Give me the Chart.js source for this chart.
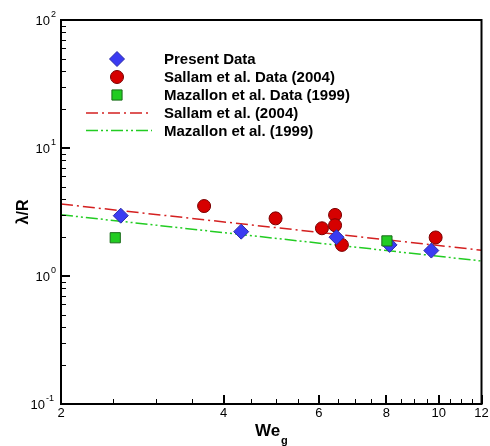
<!DOCTYPE html>
<html>
<head>
<meta charset="utf-8">
<script src="https://cdn.jsdelivr.net/npm/chart.js@4.4.0/dist/chart.umd.min.js"></script>
<style>
  body { margin: 0; background: #fff; }
  #wrap { width: 490px; height: 446px; position: relative; }
</style>
</head>
<body>
<div id="wrap"><canvas id="chart"></canvas></div>
<script>
// data
const presentWe = [2.58, 4.31, 6.47, 8.11, 9.69];
const presentVal = [2.96, 2.22, 2.01, 1.75, 1.58];
const sallamWe = [3.68, 4.99, 6.08, 6.43, 6.43, 6.62, 9.87];
const sallamVal = [3.52, 2.82, 2.36, 3.0, 2.49, 1.75, 2.0];
const mazallonWe = [2.52, 8.02];
const mazallonVal = [1.99, 1.88];
const fitWe = [2, 12];
const sallamFit = [3.65, 1.59];
const mazallonFit = [3.01, 1.31];

// axis ticks
const xMajor = [2, 4, 6, 8, 10, 12];
const xMinor = [2.5, 3, 3.5, 4.5, 5, 5.5, 6.5, 7, 7.5, 8.5, 9, 9.5, 10.5, 11, 11.5];
const yDecades = [0.1, 1, 10, 100];
const yExp = ["-1", "0", "1", "2"];

const pts = (xs, ys) => xs.map((x, i) => ({ x, y: ys[i] }));
const FONT = "'Liberation Sans', Arial, sans-serif";

const datasets = [
  { label: "Present Data", data: pts(presentWe, presentVal), pointStyle: "rectRot", pointRadius: 7.5,
    backgroundColor: "#3b3bf2", borderColor: "#2a2aa8", borderWidth: 1, showLine: false, order: 1 },
  { label: "Sallam et al. Data (2004)", data: pts(sallamWe, sallamVal), pointStyle: "circle", pointRadius: 6.5,
    backgroundColor: "#d60000", borderColor: "#7a0000", borderWidth: 1, showLine: false, order: 2 },
  { label: "Mazallon et al. Data (1999)", data: pts(mazallonWe, mazallonVal), pointStyle: "rect", pointRadius: 7.2,
    backgroundColor: "#22cc22", borderColor: "#1a6a1a", borderWidth: 1, showLine: false, order: 0 },
  { label: "Sallam et al. (2004)", data: pts(fitWe, sallamFit), showLine: true, pointRadius: 0,
    borderColor: "#d42020", borderWidth: 1.5, borderDash: [12, 4, 2, 4], order: 5 },
  { label: "Mazallon et al. (1999)", data: pts(fitWe, mazallonFit), showLine: true, pointRadius: 0,
    borderColor: "#22cc22", borderWidth: 1.5, borderDash: [12, 3, 2, 3, 2, 3], order: 6 }
];

const decor = {
  id: "decor",
  afterDraw(chart) {
    const ctx = chart.ctx;
    const a = chart.chartArea;
    const xs = chart.scales.x, ys = chart.scales.y;
    ctx.save();
    ctx.strokeStyle = "#000";
    ctx.fillStyle = "#000";

    // frame
    ctx.lineWidth = 2;
    ctx.strokeRect(a.left, a.top, a.right - a.left, a.bottom - a.top);

    // x ticks (inward)
    ctx.lineWidth = 1;
    ctx.beginPath();
    xMajor.forEach(v => { const p = Math.round(xs.getPixelForValue(v)) + 0.5; ctx.moveTo(p, a.bottom); ctx.lineTo(p, a.bottom - 9); });
    xMinor.forEach(v => { const p = Math.round(xs.getPixelForValue(v)) + 0.5; ctx.moveTo(p, a.bottom); ctx.lineTo(p, a.bottom - 5); });
    // y ticks
    yDecades.forEach((d, i) => {
      const p = Math.round(ys.getPixelForValue(d)) + 0.5;
      ctx.moveTo(a.left, p); ctx.lineTo(a.left + 9, p);
      if (i < yDecades.length - 1) {
        for (let k = 2; k <= 9; k++) {
          const q = Math.round(ys.getPixelForValue(d * k)) + 0.5;
          ctx.moveTo(a.left, q); ctx.lineTo(a.left + 5, q);
        }
      }
    });
    ctx.stroke();
    ctx.lineWidth = 2;
    ctx.beginPath();
    xMajor.slice(1, -1).forEach(v => { const p = Math.round(xs.getPixelForValue(v)); ctx.moveTo(p, a.bottom); ctx.lineTo(p, a.bottom - 9); });
    yDecades.slice(1, -1).forEach(d => { const p = Math.round(ys.getPixelForValue(d)); ctx.moveTo(a.left, p); ctx.lineTo(a.left + 9, p); });
    ctx.stroke();

    // x tick labels
    ctx.font = "13px " + FONT;
    ctx.textAlign = "center";
    ctx.textBaseline = "top";
    xMajor.forEach(v => ctx.fillText(String(v), xs.getPixelForValue(v), a.bottom + 3));

    // y tick labels 10^n
    yDecades.forEach((d, i) => {
      const p = ys.getPixelForValue(d);
      ctx.font = "13px " + FONT;
      ctx.textAlign = "right";
      ctx.textBaseline = "middle";
      const supW = ctx.measureText("0").width * 0.7 * yExp[i].length;
      ctx.fillText("10", a.left - 6 - supW, p + 1);
      ctx.font = "9px " + FONT;
      ctx.textAlign = "left";
      ctx.fillText(yExp[i], a.left - 6 - supW + 1, p - 5);
    });

    // axis titles
    ctx.font = "bold 17px " + FONT;
    ctx.textAlign = "left";
    ctx.textBaseline = "alphabetic";
    ctx.fillText("We", 255, 436);
    ctx.font = "bold 11px " + FONT;
    ctx.fillText("g", 281, 444);
    ctx.save();
    ctx.translate(28, 212);
    ctx.rotate(-Math.PI / 2);
    ctx.font = "bold 16px " + FONT;
    ctx.textAlign = "center";
    ctx.fillText("λ/R", 0, 0);
    ctx.restore();

    // legend
    const rows = [59, 77, 95, 113, 130.5];
    ctx.font = "bold 15px " + FONT;
    ctx.textAlign = "left";
    ctx.textBaseline = "middle";
    chart.data.datasets.forEach((ds, i) => {
      const y = rows[i];
      if (ds.showLine) {
        ctx.save();
        ctx.strokeStyle = ds.borderColor;
        ctx.lineWidth = 1.5;
        ctx.setLineDash(ds.borderDash);
        ctx.beginPath();
        ctx.moveTo(86, y); ctx.lineTo(152, y);
        ctx.stroke();
        ctx.restore();
      } else {
        ctx.save();
        ctx.fillStyle = ds.backgroundColor;
        ctx.strokeStyle = ds.borderColor;
        ctx.lineWidth = 1;
        Chart.helpers.drawPoint(ctx, { pointStyle: ds.pointStyle, radius: ds.pointRadius, borderWidth: 1 }, 117, y);
        ctx.restore();
      }
      ctx.fillStyle = "#000";
      ctx.fillText(ds.label, 164, y + 1);
    });
    ctx.restore();
  }
};

new Chart(document.getElementById("chart"), {
  type: "scatter",
  data: { datasets },
  options: {
    responsive: true,
    maintainAspectRatio: false,
    animation: false,
    layout: { padding: { left: 61, right: 8, top: 20, bottom: 42 } },
    plugins: { legend: { display: false }, tooltip: { enabled: false } },
    scales: {
      x: { type: "logarithmic", min: 2, max: 12, display: false },
      y: { type: "logarithmic", min: 0.1, max: 100, display: false }
    }
  },
  plugins: [decor]
});
</script>
</body>
</html>
